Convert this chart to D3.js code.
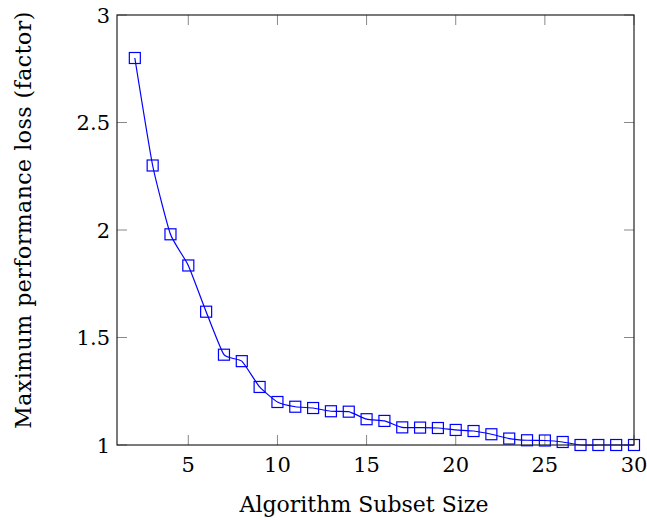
<!DOCTYPE html>
<html>
<head>
<meta charset="utf-8">
<script src="https://cdn.jsdelivr.net/npm/d3@7"></script>
<style>
    body { margin: 0; background: #fff; }
    svg text { font-family: "DejaVu Serif", "Liberation Serif", serif; fill: #000; }
</style>
</head>
<body>
<svg id="chart"></svg>
<script>
// subset sizes and the max performance loss factor for each
const subsetSizes = [2, 3, 4, 5, 6, 7, 8, 9, 10, 11, 12, 13, 14, 15, 16, 17, 18, 19, 20, 21, 22, 23, 24, 25, 26, 27, 28, 29, 30];
const maxLoss = [2.80, 2.30, 1.98, 1.835, 1.62, 1.42, 1.39, 1.27, 1.20, 1.178, 1.172, 1.157, 1.155, 1.12, 1.112, 1.082, 1.081, 1.079, 1.07, 1.065, 1.05, 1.03, 1.022, 1.021, 1.014, 1.0, 1.0, 1.0, 1.0];
const xTicks = [5, 10, 15, 20, 25, 30];
const yTicks = [1, 1.5, 2, 2.5, 3];

const width = 647, height = 520;
const margin = { top: 15, right: 13, bottom: 75, left: 117 };
const innerW = width - margin.left - margin.right;
const innerH = height - margin.top - margin.bottom;
const tickLen = 10;

const svg = d3.select("#chart").attr("width", width).attr("height", height);
const g = svg.append("g").attr("transform", `translate(${margin.left},${margin.top})`);

const x = d3.scaleLinear().domain([1, 30]).range([0, innerW]);
const y = d3.scaleLinear().domain([1, 3]).range([innerH, 0]);

// ticks, drawn inwards on all four sides like pgfplots
const tickColor = "#888";
g.selectAll("line.xt").data(xTicks).join("line")
    .attr("class", "xt")
    .attr("x1", d => x(d)).attr("x2", d => x(d))
    .attr("y1", innerH).attr("y2", innerH - tickLen)
    .attr("stroke", tickColor);
g.selectAll("line.xt2").data(xTicks).join("line")
    .attr("class", "xt2")
    .attr("x1", d => x(d)).attr("x2", d => x(d))
    .attr("y1", 0).attr("y2", tickLen)
    .attr("stroke", tickColor);
g.selectAll("line.yt").data(yTicks).join("line")
    .attr("class", "yt")
    .attr("x1", 0).attr("x2", tickLen)
    .attr("y1", d => y(d)).attr("y2", d => y(d))
    .attr("stroke", tickColor);
g.selectAll("line.yt2").data(yTicks).join("line")
    .attr("class", "yt2")
    .attr("x1", innerW - tickLen).attr("x2", innerW)
    .attr("y1", d => y(d)).attr("y2", d => y(d))
    .attr("stroke", tickColor);

// tick labels
g.selectAll("text.xl").data(xTicks).join("text")
    .attr("class", "xl")
    .attr("x", d => x(d)).attr("y", innerH + 27)
    .attr("text-anchor", "middle")
    .style("font-size", "21px")
    .text(d => d);
g.selectAll("text.yl").data(yTicks).join("text")
    .attr("class", "yl")
    .attr("x", -7).attr("y", d => y(d))
    .attr("dy", "0.36em")
    .attr("text-anchor", "end")
    .style("font-size", "21px")
    .text(d => d);

// line + markers
const line = d3.line()
    .x((d, i) => x(subsetSizes[i]))
    .y(d => y(d))
    .curve(d3.curveCardinal.tension(0.5));

g.append("path")
    .datum(maxLoss)
    .attr("fill", "none")
    .attr("stroke", "#0000ff")
    .attr("stroke-width", 1.2)
    .attr("d", line);

const ms = 11;
g.selectAll("rect.mk").data(maxLoss).join("rect")
    .attr("class", "mk")
    .attr("x", (d, i) => x(subsetSizes[i]) - ms / 2)
    .attr("y", d => y(d) - ms / 2)
    .attr("width", ms).attr("height", ms)
    .attr("fill", "none")
    .attr("stroke", "#0000ff")
    .attr("stroke-width", 1.2);

// frame
g.append("rect")
    .attr("width", innerW).attr("height", innerH)
    .attr("fill", "none")
    .attr("stroke", "#222")
    .attr("stroke-width", 1.2);

// axis titles
svg.append("text")
    .attr("x", 364)
    .attr("y", 512)
    .attr("text-anchor", "middle")
    .style("font-size", "22px")
    .text("Algorithm Subset Size");

svg.append("text")
    .attr("transform", "translate(31, 220) rotate(-90)")
    .attr("text-anchor", "middle")
    .style("font-size", "22px")
    .style("letter-spacing", "0.5px")
    .text("Maximum performance loss (factor)");
</script>
</body>
</html>
